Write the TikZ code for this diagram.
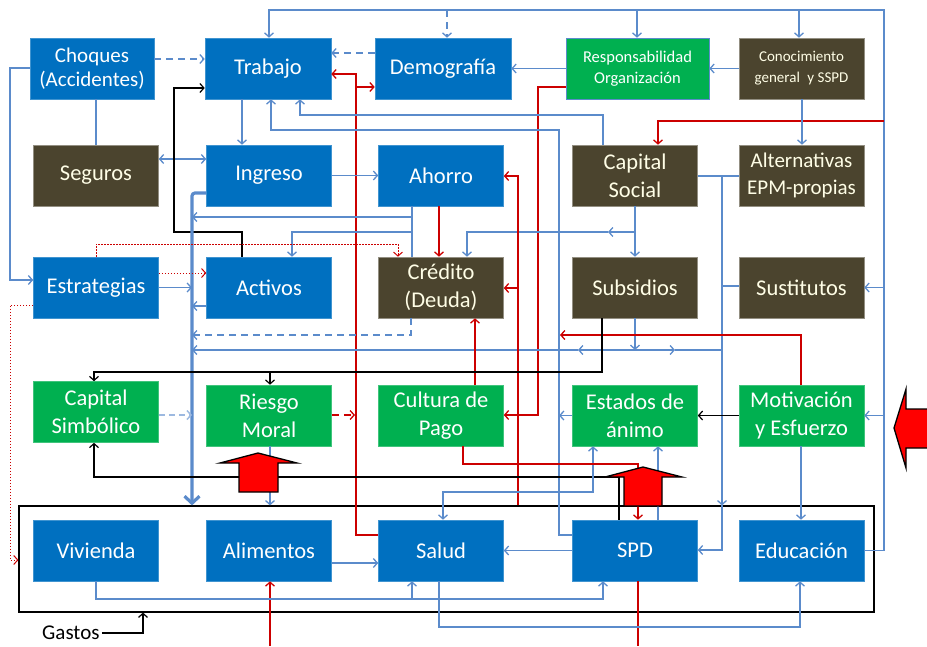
\documentclass[tikz,border=0pt]{standalone}
\usepackage{fontspec}
\setmainfont{Carlito}
\usetikzlibrary{arrows.meta}
\definecolor{bbox}{HTML}{0070C0}
\definecolor{gbox}{HTML}{00B050}
\definecolor{obox}{HTML}{4B442E}
\definecolor{lnk}{HTML}{5B8BCB}
\definecolor{lnklight}{HTML}{9DB9E0}
\definecolor{rlnk}{HTML}{CC0000}
\definecolor{bigred}{HTML}{FF0000}
\begin{document}
\begin{tikzpicture}[x=1pt,y=-1pt,
  >={Straight Barb[length=4pt,width=9pt]},
  box/.style={minimum width=125pt, minimum height=61pt, inner sep=1pt, align=center,
    text=white, font=\fontsize{22.5}{28}\selectfont, line width=0.6pt},
  bluebox/.style={box, fill=bbox, draw=bbox!75!white},
  greenbox/.style={box, fill=gbox, draw=gbox!75!white},
  olivebox/.style={box, fill=obox, draw=obox!60!white, text=white!90!yellow},
  lk/.style={draw=lnk, line width=1.3pt},
  rl/.style={draw=rlnk, line width=1.3pt},
  bk/.style={draw=black, line width=1.2pt},
  dsh/.style={dash pattern=on 7pt off 5pt},
  dotr/.style={draw=rlnk, line width=1pt, dash pattern=on 1.5pt off 1.5pt},
  thick link/.style={draw=lnk, line width=3.2pt, -{Straight Barb[length=7pt,width=15pt]}},
  blockarrow/.style={fill=bigred, draw=black, line width=1.3pt, line join=miter}
]
\useasboundingbox (0,0) rectangle (927,646);

% frame grouping the expenditure items
\node[draw=black, line width=1.2pt, minimum width=855pt, minimum height=106pt, inner sep=0] (gas) at (446.5,559) {};
\node[font=\fontsize{21}{24}\selectfont, anchor=west, inner sep=0] (glab) at (42,633) {Gastos};

% row 1
\node[bluebox, minimum width=124pt, font=\fontsize{21}{24}\selectfont] (cho) at (92,68.5) {Choques\\(Accidentes)};
\node[bluebox, minimum width=126pt] (tra) at (268,68.5) {Trabajo};
\node[bluebox, minimum width=136pt] (dem) at (443,68.5) {Demografía};
\node[greenbox, minimum width=143pt, draw=lnk, font=\fontsize{16.5}{21}\selectfont] (res) at (637.5,68.5) {Responsabilidad\\Organización};
\node[olivebox, font=\fontsize{15}{21}\selectfont] (con) at (801.5,68.5) {Conocimiento\\general\enspace y SSPD};
% row 2
\node[olivebox] (seg) at (96,175.5) {Seguros};
\node[bluebox] (ing) at (269,175.5) {Ingreso};
\node[bluebox] (aho) at (441,175.5) {Ahorro};
\node[olivebox] (cso) at (635,175.5) {Capital\\Social};
\node[olivebox, font=\fontsize{21}{27}\selectfont] (alt) at (801.5,175.5) {Alternativas\\EPM-propias};
% row 3
\node[bluebox] (est) at (96,287.5) {Estrategias};
\node[bluebox] (act) at (269,287.5) {Activos};
\node[olivebox] (cre) at (441,287.5) {Crédito\\(Deuda)};
\node[olivebox] (sub) at (635,287.5) {Subsidios};
\node[olivebox] (sus) at (801.5,287.5) {Sustitutos};
% row 4
\node[greenbox] (csi) at (96,412) {Capital\\Simbólico};
\node[greenbox] (rie) at (269,415.5) {Riesgo\\Moral};
\node[greenbox] (cul) at (441,415.5) {Cultura de\\Pago};
\node[greenbox] (eda) at (635,415.5) {Estados de\\ánimo};
\node[greenbox] (mot) at (801.5,415.5) {Motivación\\y Esfuerzo};
% row 5
\node[bluebox] (viv) at (96,550.5) {Vivienda};
\node[bluebox] (ali) at (269,550.5) {Alimentos};
\node[bluebox] (sal) at (441,550.5) {Salud};
\node[bluebox] (spd) at (635,550.5) {SPD};
\node[bluebox] (edu) at (801.5,550.5) {Educación};

% free ends at the lower border
\coordinate (spdout) at (638,646);
\coordinate (aliin) at (270,646);

% feedback loop round the top and right side
\draw[lk,->] (edu.east) -- (884,0 |- edu.east) -- (884,10) -- (269,10) -- (269,0 |- tra.north);
\draw[lk,dsh,->] (447,10) -- (447,0 |- dem.north);
\draw[lk,->] (637,10) -- (637,0 |- res.north);
\draw[lk,->] (799,10) -- (799,0 |- con.north);
\draw[lk,->] (884,0 |- sus.east) -- (sus.east);
\draw[lk,->] (884,0 |- mot.east) -- (mot.east);
\draw[rl,->] (884,121) -- (658,121) -- (658,0 |- cso.north);

% first row links
\draw[lk,dsh,->] (cho.east |- 0,59) -- (tra.west |- 0,59);
\draw[lk,dsh,->] (dem.west |- 0,53) -- (tra.east |- 0,53);
\draw[lk,->] (res.west) -- (dem.east);
\draw[lk,->] (con.west) -- (res.east);
\draw[lk,->] (802,0 |- con.south) -- (802,0 |- alt.north);
\draw[rl,->] (sal.west |- 0,535) -- (356,535) -- (356,74) -- (tra.east |- 0,74);
\draw[rl,->] (356,87) -- (dem.west |- 0,87);
\draw[rl,->] (res.west |- 0,87) -- (538,87) -- (538,415) -- (cul.east |- 0,415);
\draw[lk,->] (603,0 |- cso.north) -- (603,115) -- (300,115) -- (300,0 |- tra.south);
\draw[lk,->] (spd.west |- 0,535) -- (559,535) -- (559,130) -- (271,130) -- (271,0 |- tra.south);
\draw[lk,->] (242,0 |- tra.south) -- (242,0 |- ing.north);
\draw[lk,<->] (seg.east |- 0,159) -- (ing.west |- 0,159);
\draw[lk] (96,0 |- cho.south) -- (96,0 |- seg.north);
\draw[lk,->] (cho.west |- 0,68) -- (10,68) -- (10,280) -- (est.west |- 0,280);
\draw[lk,->] (ing.east) -- (aho.west);
\draw[bk,->] (242,0 |- act.north) -- (242,232) -- (174,232) -- (174,88) -- (tra.west |- 0,88);

% main flow from income to expenditure
\draw[thick link, rounded corners=3pt] (ing.west |- 0,193) -- (192,193) -- (192,0 |- gas.north);
\draw[lk] (412,0 |- aho.south) -- (412,0 |- cre.north);
\draw[lk,->] (412,217) -- (192,217);
\draw[lk,->] (412,232) -- (292,232) -- (292,0 |- act.north);
\draw[rl,->] (439,0 |- aho.south) -- (439,0 |- cre.north);
\draw[dotr,->] (96,0 |- est.north) -- (96,244) -- (398,244) -- (398,0 |- cre.north);
\draw[dotr,->] (est.east |- 0,273) -- (act.west |- 0,273);
\draw[dotr,->] (est.west |- 0,305) -- (10,305) -- (10,560) -- (gas.west |- 0,560);
\draw[lk,->] (est.east) -- (192,0 |- est.east);
\draw[lk,->] (act.west |- 0,306) -- (192,306);
\draw[lk,dsh,->] (411,0 |- cre.south) -- (411,335) -- (192,335);
\draw[lk,->] (635,0 |- sub.south) -- (635,350);
\draw[lk,->] (635,350) -- (578,350);
\draw[lk,->] (578,350) -- (192,350);
\draw[lk,->] (635,350) -- (675,350);
\draw[lk] (675,350) -- (722,350);
\draw[lk,->] (635,0 |- cso.south) -- (635,0 |- sub.north);
\draw[lk,->] (635,232) -- (608,232);
\draw[lk,->] (608,232) -- (467,232) -- (467,0 |- cre.north);
\draw[lk] (cso.east |- 0,176) -- (alt.west |- 0,176);
\draw[lk,->] (722,176) -- (722,0 |- gas.north);
\draw[lk,->] (722,0 |- gas.north) -- (722,550) -- (spd.east |- 0,550);
\draw[lk] (722,286) -- (sus.west |- 0,286);
\draw[rl,->] (518,0 |- gas.north) -- (518,176) -- (aho.east |- 0,176);
\draw[rl,->] (518,288) -- (cre.east |- 0,288);
\draw[rl,->] (475,0 |- cul.north) -- (475,0 |- cre.south);
\draw[rl,->] (801,0 |- mot.north) -- (801,335) -- (560,335);

% fourth row links
\draw[rl,dsh,->] (rie.east |- 0,415) -- (355,415);
\draw[draw=lnklight, line width=1.5pt, dash pattern=on 6pt off 4pt, ->] (csi.east |- 0,415) -- (192,415);
\draw[bk,->] (602,0 |- sub.south) -- (602,372) -- (94,372) -- (94,0 |- csi.north);
\draw[bk,->] (270,372) -- (270,0 |- rie.north);
\draw[bk,->] (619,0 |- spd.north) -- (619,477) -- (94,477) -- (94,0 |- csi.south);
\draw[bk,->] (mot.west) -- (eda.east);
\draw[lk,->] (eda.west) -- (559,0 |- eda.west);
\draw[lk,->] (658,0 |- spd.north) -- (658,0 |- eda.south);
\draw[lk,<->] (443,0 |- sal.north) -- (443,492) -- (593,492) -- (593,0 |- eda.south);
\draw[rl,->] (463,0 |- cul.south) -- (463,464) -- (638,464) -- (638,0 |- spd.north);
\draw[lk,->] (270,0 |- rie.south) -- (270,0 |- gas.north);

% expenditure row links
\draw[rl] (638,0 |- spd.south) -- (spdout);
\draw[rl,->] (aliin) -- (270,0 |- ali.south);
\draw[lk,->] (96,0 |- viv.south) -- (96,599) -- (603,599) -- (603,0 |- spd.south);
\draw[lk,->] (412,599) -- (412,0 |- sal.south);
\draw[lk,->] (ali.east |- 0,563) -- (sal.west |- 0,563);
\draw[lk,->] (spd.west) -- (sal.east);
\draw[lk,->] (439,0 |- sal.south) -- (439,627) -- (800,627) -- (800,0 |- edu.south);
\draw[lk,->] (801,0 |- mot.south) -- (801,0 |- edu.north);
\draw[bk,->] (glab.east) ++(2,0) -- (143,0 |- glab.east) -- (143,0 |- gas.south);

% large red block arrows
\draw[blockarrow] (239,492) -- (239,463) -- (220,463) -- (258,453) -- (297,463) -- (278,463) -- (278,492) -- cycle;
\draw[blockarrow] (624,506) -- (624,477) -- (605,477) -- (643,467) -- (682,477) -- (662,477) -- (662,506) -- cycle;
\draw[blockarrow] (935,409) -- (906,409) -- (906,389) -- (894,428) -- (906,468) -- (906,448) -- (935,448) -- cycle;
\end{tikzpicture}
\end{document}
